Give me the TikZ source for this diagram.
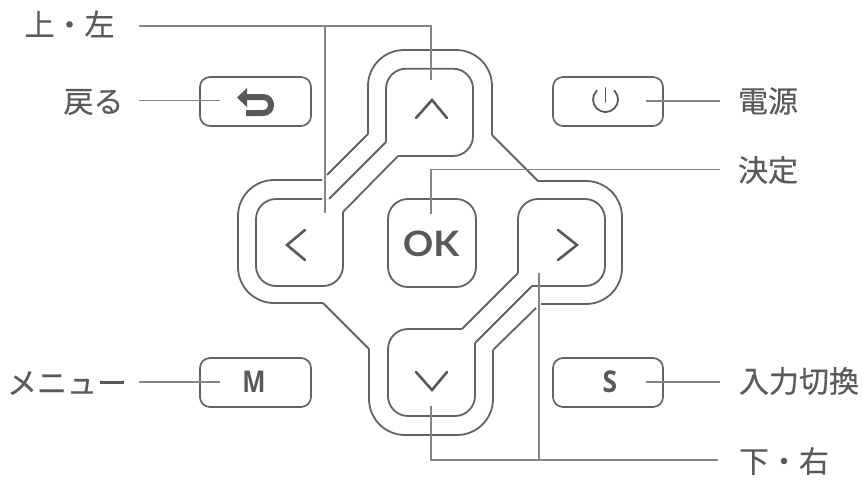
\documentclass[tikz,border=0pt]{standalone}
\usepackage{fontspec}
\setmainfont{Open Sans}
\newfontfamily\symf{Open Sans}
\newfontfamily\okf{Lato}
\newfontfamily\cjk[FakeBold=0.35]{Noto Sans CJK JP}
\definecolor{btncol}{HTML}{636363}
\definecolor{leadcol}{HTML}{858585}
\definecolor{glyphcol}{HTML}{595959}
\definecolor{txtcol}{HTML}{5A5A5A}
\tikzset{
  x=1pt,y=-1pt,
  btn/.style={draw=btncol,line width=1.8pt,rounded corners=20pt,line join=miter},
  outerb/.style={draw=btncol,line width=1.8pt,rounded corners=36pt},
  diag/.style={draw=btncol,line width=1.8pt},
  smallbtn/.style={draw=btncol,line width=1.7pt,rounded corners=10pt,inner sep=0pt},
  lead/.style={draw=leadcol,line width=1.5pt},
  glyph/.style={draw=glyphcol,line width=2.6pt,line cap=round,line join=miter},
  lbl/.style={font=\cjk\fontsize{30}{30}\selectfont,text=txtcol,inner sep=0pt},
  sym/.style={text=glyphcol,inner sep=0pt}
}
\begin{document}
\begin{tikzpicture}
\useasboundingbox (0,0) rectangle (863,482);
% outer outline, cut where the leaders pass
\draw[outerb] (322,180) -- (238,180) -- (238,303) -- (323,303);
\draw[diag] (323,303) -- (369,349);
\draw[outerb] (369,349) -- (369,435) -- (493,435) -- (493,350);
\draw[diag] (493,350) -- (536,308);
\draw[diag] (327,175) -- (368,134);
\draw[outerb] (368,134) -- (368,50) -- (492,50) -- (492,135);
\draw[diag] (492,135) -- (538,181);
\draw[outerb] (538,181) -- (622,181) -- (622,304) -- (541,304);
% inner buttons
\draw[btn] (322,199) -- (256,199) -- (256,286) -- (343,286) -- (343,212);
\draw[diag] (343,212) -- (398,156);
\draw[btn] (398,156) -- (473,156) -- (473,68.7) -- (386,68.7) -- (386,142);
\draw[diag] (386,142) -- (329,199);
\node[btn,minimum width=88pt,minimum height=88pt,inner sep=0pt] (okb) at (432,243) {};
\draw[btn] (518,273) -- (518,199) -- (605,199) -- (605,286) -- (532,286);
\draw[diag] (532,286) -- (475,343);
\draw[btn] (475,343) -- (475,416) -- (388,416) -- (388,329) -- (462,329);
\draw[diag] (462,329) -- (518,273);
% small buttons
\node[smallbtn,minimum width=111pt,minimum height=49pt] (back) at (255.5,101.5) {};
\node[smallbtn,minimum width=110pt,minimum height=49pt] (pow) at (608,101.5) {};
\node[smallbtn,minimum width=111pt,minimum height=49pt] (menu) at (255.5,382.5) {};
\node[smallbtn,minimum width=110pt,minimum height=49pt] (inp) at (608,382.5) {};
% glyphs
\draw[glyph] (416,118) -- (432,100) -- (447,118);
\draw[glyph] (305,230) -- (287,245) -- (305,260);
\draw[glyph] (558,230) -- (577,245) -- (558,260);
\draw[glyph] (416,372) -- (432,390) -- (447,372);
\node[sym,xscale=1.08,font=\okf\bfseries\fontsize{35}{35}\selectfont] (ok) at (431,244) {OK};
\node[sym,xscale=.82,font=\symf\bfseries\fontsize{30}{30}\selectfont] (ml) at (254,382) {M};
\node[sym,xscale=.88,font=\symf\bfseries\fontsize{30}{30}\selectfont] (sl) at (610,382) {S};
\draw[glyph,line width=1.8pt,line cap=round] (605.5,88) -- (605.5,102);
\draw[glyph,line width=1.8pt,line cap=round] (596.7,90.7) arc[start angle=135,end angle=405,radius=12.5pt];
\draw[glyphcol,line width=6pt] (246,97) -- (263,97) .. controls (273.7,97) and (273.7,113) .. (263,113) -- (246,113);
\fill[glyphcol] (237,97.5) -- (247,88) -- (247,107) -- cycle;
% labels
\node[lbl] (a) at (69.5,24) {上・左};
\node[lbl] (b) at (93.5,102) {戻る};
\node[lbl] (c) at (67,383) {メニュー};
\node[lbl] (d) at (768,101) {電源};
\node[lbl] (e) at (768,170) {決定};
\node[lbl] (f) at (799,381) {入力切換};
\node[lbl] (g) at (784,461) {下・右};
% leaders
\coordinate (l0) at (139,26);
\coordinate (l1) at (431,80);
\coordinate (l2) at (325,213);
\coordinate (l3) at (139,100.7);
\coordinate (l4) at (220,100.7);
\coordinate (l5) at (139,382);
\coordinate (l6) at (220,382);
\coordinate (l7) at (646,101);
\coordinate (l8) at (720,101);
\coordinate (l9) at (646,382);
\coordinate (l10) at (720,382);
\coordinate (l11) at (720,169.3);
\coordinate (l12) at (431,214);
\coordinate (l13) at (431,406);
\coordinate (l14) at (718,460);
\coordinate (l15) at (539,273);
\draw[lead] (l0) -| (l1);
\draw[lead] (l2) -- (325,26);
\draw[lead] (l3) -- (l4);
\draw[lead] (l5) -- (l6);
\draw[lead] (l7) -- (l8);
\draw[lead] (l9) -- (l10);
\draw[lead] (l11) -| (l12);
\draw[lead] (l13) |- (l14);
\draw[lead] (l15) -- (539,460);
\end{tikzpicture}
\end{document}
